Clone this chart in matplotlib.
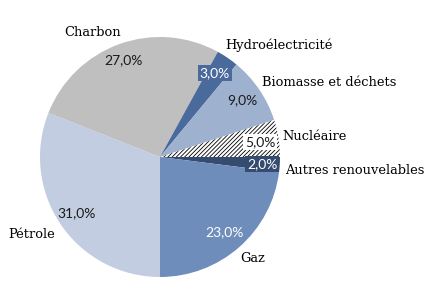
import numpy as np
import matplotlib
matplotlib.use("Agg")
import matplotlib.pyplot as plt

# data, clockwise from 3 o'clock
sources = ["Autres renouvelables", "Gaz", "Pétrole", "Charbon",
           "Hydroélectricité", "Biomasse et déchets", "Nucléaire"]
shares = [2.0, 23.0, 31.0, 27.0, 3.0, 9.0, 5.0]

colors = ["#354c70", "#6e8dba", "#c2cde1", "#bfbfbf", "#4a6a9c", "#9eb1cf", "white"]

# label positions in pixels of the 443x304 picture (centre of text)
name_pos = [(355, 170), (253, 259), (32, 234), (93, 32), (279, 45), (329, 82), (315, 137)]
pct_pos = [(262, 164), (224, 232), (77, 213), (123, 60), (215, 73), (242, 100), (260, 142)]
pct_color = ["white", "white", "#1a1a1a", "#1a1a1a", "white", "#1a1a1a", "#1a1a1a"]
pct_box = [colors[0], None, None, None, colors[4], None, "white"]

cx, cy, r = 160, 157, 120
W, H = 443, 304

def to_data(p):
    return ((p[0] - cx) / r, (cy - p[1]) / r)

plt.rcParams["hatch.linewidth"] = 0.6
fig = plt.figure(figsize=(W / 100, H / 100), dpi=100)
ax = fig.add_axes([0, 0, 1, 1])
wedges, _ = ax.pie(shares, colors=colors, startangle=0, counterclock=False,
                   radius=1.0, wedgeprops=dict(linewidth=0))
wedges[6].set_hatch("////////")
wedges[6].set_edgecolor("black")
wedges[6].set_linewidth(0)

ax.set_xlim(-cx / r, (W - cx) / r)
ax.set_ylim((cy - H) / r, cy / r)
ax.set_aspect("equal")
ax.axis("off")

for i, name in enumerate(sources):
    x, y = to_data(name_pos[i])
    ax.text(x, y, name, ha="center", va="center", fontsize=9.4,
            family="DejaVu Serif", color="black")
    x, y = to_data(pct_pos[i])
    bbox = None
    if pct_box[i] is not None:
        bbox = dict(boxstyle="square,pad=0.15", fc=pct_box[i], ec="none")
    ax.text(x, y, "{:.1f}%".format(shares[i]).replace(".", ","), ha="center", va="center",
            fontsize=10, family="Lato", color=pct_color[i], bbox=bbox)

fig.savefig("out.png", dpi=100)
